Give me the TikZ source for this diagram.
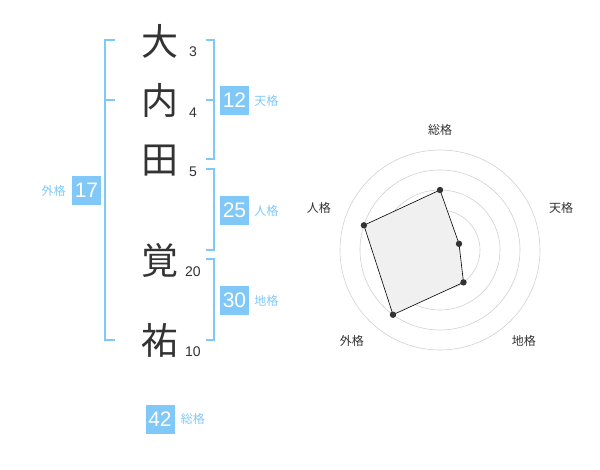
\documentclass[tikz,border=0pt]{standalone}
\usepackage{fontspec}
\usetikzlibrary{positioning}
\setmainfont{Liberation Sans}
\newfontfamily\cjk{Noto Sans CJK JP}
\definecolor{kakublue}{HTML}{80C8F8}
\definecolor{inkgray}{HTML}{333333}

\begin{document}
\begin{tikzpicture}[x=1pt,y=-1pt,
    kanji/.style={font=\cjk\fontsize{37}{37}\selectfont,text=inkgray,inner sep=0pt},
    strokes/.style={font=\fontsize{14}{14}\selectfont,text=inkgray,inner sep=0pt},
    kakubox/.style={fill=kakublue,text=white,font=\fontsize{21}{21}\selectfont,minimum size=29pt,inner sep=0pt},
    kakulabel/.style={font=\cjk\fontsize{12}{12}\selectfont,text=kakublue,inner sep=0pt},
    bracket/.style={draw=kakublue,line width=1.3pt},
    ring/.style={draw=black!18,line width=0.6pt},
    axislabel/.style={font=\cjk\fontsize{12}{12}\selectfont,text=inkgray,inner sep=0pt}]
        \useasboundingbox (0,0) rectangle (600,470);
        % name and stroke counts
        \foreach \Name/\Char/\Y/\Num/\NumY in {dai/大/41/3/52, uchi/内/100/4/113, ta/田/161/5/172, kaku/覚/260/20/272, yu/祐/340/10/352}
        {
        \node[kanji] (\Name) at (160,\Y) {\Char};
        \node[strokes] (n-\Name) at (193,\NumY) {\Num};
        }
        % brackets
        \draw[bracket] (115,40) -- (105,40) -- (105,340) -- (115,340);
        \draw[bracket] (105,100) -- (115,100);
        \draw[bracket] (206,40) -- (214,40) -- (214,159) -- (206,159);
        \draw[bracket] (214,100) -- (206,100);
        \draw[bracket] (206,169) -- (214,169) -- (214,250) -- (206,250);
        \draw[bracket] (206,259) -- (214,259) -- (214,340) -- (206,340);
        % boxes
        \node[kakubox] (ten) at (234.5,100.5) {12};
        \node[kakulabel,right=5pt of ten] (ten-l) {天格};
        \node[kakubox] (jin) at (234.5,210.5) {25};
        \node[kakulabel,right=5pt of jin] (jin-l) {人格};
        \node[kakubox] (chi) at (234.5,300.5) {30};
        \node[kakulabel,right=5pt of chi] (chi-l) {地格};
        \node[kakubox] (gai) at (86.5,190.5) {17};
        \node[kakulabel,left=6pt of gai] (gai-l) {外格};
        \node[kakubox] (sou) at (160,419) {42};
        \node[kakulabel,right=6pt of sou] (sou-l) {総格};
        % radar
        \begin{scope}[shift={(440,250)},yscale=-1]
        \foreach \R in {20,40,60,80,100}
        \draw[ring] (0,0) circle (\R);
        \fill[black!22] (0,0) circle (3);
        \foreach \Name/\Ang/\R in {sou/90/60, ten/18/20, chi/-54/40, gai/-126/80, jin/162/80}
        \coordinate (p-\Name) at (\Ang:\R);
        \draw[fill=black!6,line width=0.6pt] (p-sou) -- (p-ten) -- (p-chi) -- (p-gai) -- (p-jin) -- cycle;
        \foreach \Name in {sou,ten,chi,gai,jin}
        \fill[inkgray] (p-\Name) circle (3.2);
        \foreach \Name/\Ang/\R/\Text in {sou/90/120/総格, ten/19/128/天格, chi/-47.5/124/地格, gai/-134/127/外格, jin/161/128/人格}
        \node[axislabel] (a-\Name) at (\Ang:\R) {\Text};
        \end{scope}
\end{tikzpicture}
\end{document}
